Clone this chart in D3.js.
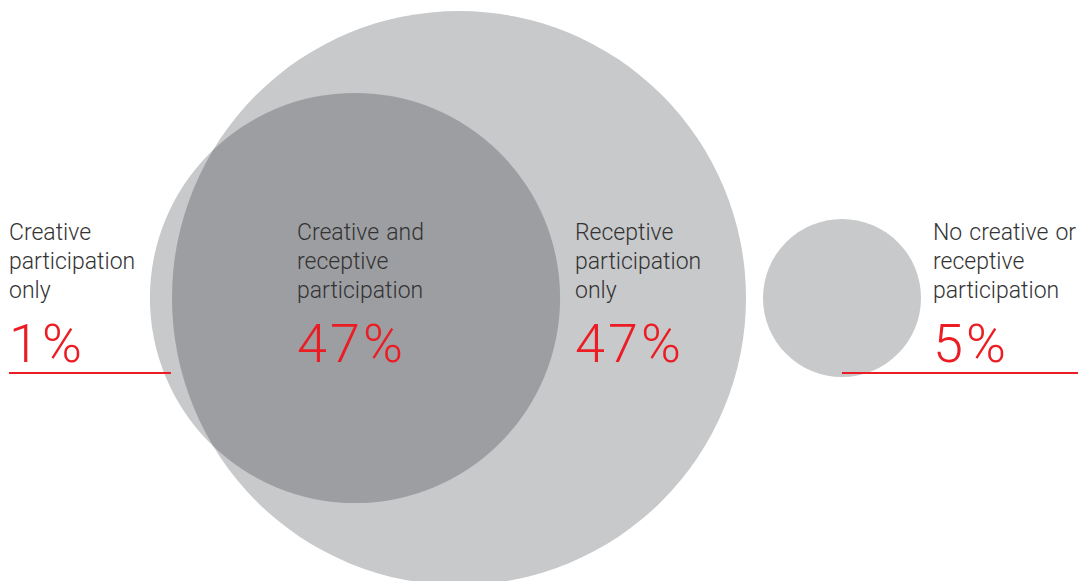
<!DOCTYPE html>
<html>
<head>
<meta charset="utf-8">
<script src="https://cdn.jsdelivr.net/npm/d3@7"></script>
<style>
  html, body { margin: 0; padding: 0; background: #ffffff; }
  svg { display: block; }
</style>
</head>
<body>
<svg id="chart" width="1082" height="581"></svg>
<script>
// Shares of the population by type of cultural participation (%)
const groups = ["creativeOnly", "both", "receptiveOnly", "none"];
const labels = [
  ["Creative", "participation", "only"],
  ["Creative and", "receptive", "participation"],
  ["Receptive", "participation", "only"],
  ["No creative or", "receptive", "participation"]
];
const values = [1, 47, 47, 5];

// Circle totals derived from the shares
const creativeTotal = values[0] + values[1];   // 48
const receptiveTotal = values[1] + values[2];  // 94

const svg = d3.select("#chart");

const light = "#c8c9cb";
const dark = "#9d9ea1";
const red = "#ec1c24";
const ink = "#333333";

// Circle area proportional to share
const r = d3.scaleSqrt().domain([0, receptiveTotal]).range([0, 287]);
const rRec = r(receptiveTotal);
const rCre = r(creativeTotal);

const cy = 298;
const recCx = 459, creCx = 355;
const noneCx = 842, noneR = 79;

// Receptive circle
svg.append("circle").attr("cx", recCx).attr("cy", cy).attr("r", rRec).attr("fill", light);
// Creative circle
svg.append("circle").attr("cx", creCx).attr("cy", cy).attr("r", rCre).attr("fill", light);
// Overlap: creative circle clipped to the receptive circle
const defs = svg.append("defs");
defs.append("clipPath").attr("id", "recClip")
  .append("circle").attr("cx", recCx).attr("cy", cy).attr("r", rRec);
svg.append("circle").attr("cx", creCx).attr("cy", cy).attr("r", rCre)
  .attr("fill", dark).attr("clip-path", "url(#recClip)");
// No participation
svg.append("circle").attr("cx", noneCx).attr("cy", cy).attr("r", noneR).attr("fill", light);

// Label blocks
const labelX = [9, 297, 575, 933];
const lineY = [240, 269, 298];
const pctY = 362;

groups.forEach((g, i) => {
  const grp = svg.append("g").attr("class", "label " + g);
  const t = grp.append("text")
    .attr("font-family", "Roboto, 'Liberation Sans', sans-serif")
    .attr("font-weight", 300)
    .attr("font-size", 23)
    .attr("word-spacing", 1.5)
    .attr("fill", ink);
  labels[i].forEach((line, j) => {
    t.append("tspan").attr("x", labelX[i]).attr("y", lineY[j]).text(line);
  });
  grp.append("text")
    .attr("x", labelX[i])
    .attr("y", pctY)
    .attr("font-family", "Roboto, 'Liberation Sans', sans-serif")
    .attr("font-weight", 300)
    .attr("font-size", 54)
    .attr("letter-spacing", 3)
    .attr("fill", red)
    .text(d3.format("d")(values[i]) + "%");
});

// Leader rules under the outer percentages
svg.append("line").attr("x1", 9).attr("x2", creCx - rCre + 21).attr("y1", 373).attr("y2", 373)
  .attr("stroke", red).attr("stroke-width", 2);
svg.append("line").attr("x1", noneCx).attr("x2", 1078).attr("y1", 373).attr("y2", 373)
  .attr("stroke", red).attr("stroke-width", 2);
</script>
</body>
</html>
